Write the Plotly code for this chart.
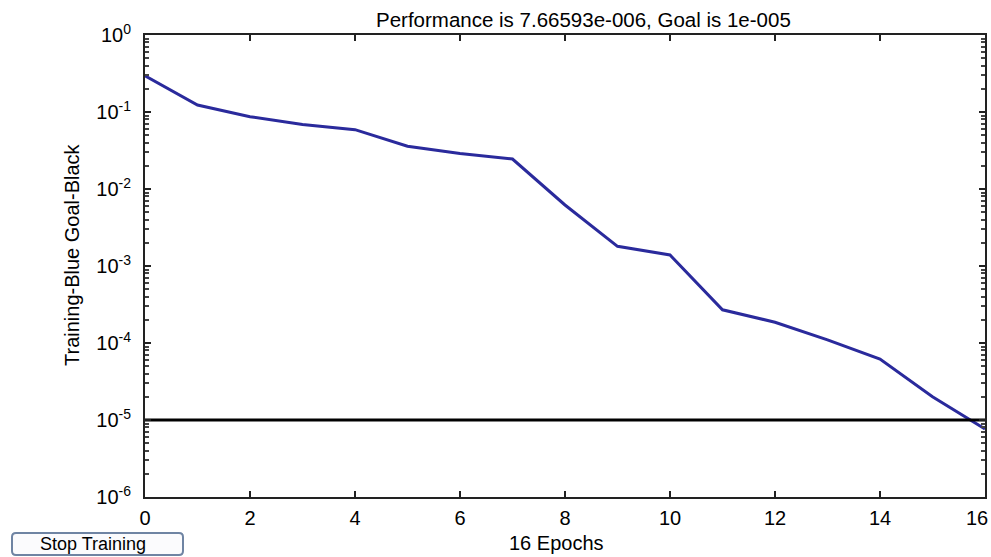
import plotly.graph_objects as go

# ---- data ----
epochs = list(range(0, 17))
performance = [0.295, 0.123, 0.087, 0.069, 0.059, 0.036, 0.029, 0.0245,
               0.0062, 0.0018, 0.00139, 0.00027, 0.000186, 0.00011,
               6.2e-5, 2.0e-5, 7.66593e-6]
goal_value = 1e-5
goal_x = [0, 16]
goal_y = [goal_value, goal_value]

x_tickvals = list(range(0, 17, 2))
x_ticktext = ["0", "2", "4", "6", "8", "10", "12", "14", ""]
last_x_label = "16"
y_exponents = [0, -1, -2, -3, -4, -5, -6]
y_tickvals = [10 ** e for e in y_exponents]
y_ticktext = ["10<sup>%d</sup>" % e for e in y_exponents]
y_minor = [k * 10 ** d for d in range(-6, 0) for k in range(2, 10)]

title_text = "Performance is 7.66593e-006, Goal is 1e-005"
xlabel_text = "16 Epochs"
ylabel_text = "Training-Blue Goal-Black"
button_text = "Stop Training"

FONT = "Liberation Sans, Arial, sans-serif"

fig = go.Figure()
fig.add_trace(go.Scatter(x=epochs, y=performance, mode="lines",
                         line=dict(color="#2a2a9c", width=3),
                         showlegend=False, hoverinfo="x+y"))
fig.add_trace(go.Scatter(x=goal_x, y=goal_y, mode="lines",
                         line=dict(color="black", width=3),
                         showlegend=False, hoverinfo="x+y"))

fig.update_layout(
    width=991, height=557,
    margin=dict(l=145, r=6, t=35, b=60),
    paper_bgcolor="white", plot_bgcolor="white",
    font=dict(family=FONT, size=20, color="black"),
    showlegend=False,
)

fig.update_xaxes(
    range=[0, 16], tickvals=x_tickvals, ticktext=x_ticktext,
    ticks="inside", ticklen=6,
    tickwidth=2, tickcolor="#222", showgrid=False, zeroline=False,
    showline=True, linecolor="#222", linewidth=2, mirror="ticks",
    tickfont=dict(size=20, family=FONT), ticklabelstandoff=2,
    automargin=False,
)
fig.update_yaxes(
    type="log", range=[-6, 0], tickvals=y_tickvals, ticktext=y_ticktext,
    ticks="inside", ticklen=6, tickwidth=2, tickcolor="#222",
    minor=dict(tickvals=y_minor, ticks="inside", ticklen=4,
               tickcolor="#444", tickwidth=1.5),
    showgrid=False, zeroline=False, showline=True, linecolor="#222",
    linewidth=2, mirror="ticks", tickfont=dict(size=20, family=FONT),
    ticklabelstandoff=8, automargin=False,
)

# last x tick label, kept inside the page
fig.add_annotation(text=last_x_label, x=x_tickvals[-1], xref="x",
                   yref="paper", y=(497 - 518) / 462,
                   xanchor="right", yanchor="middle", xshift=5,
                   showarrow=False, font=dict(size=20, family=FONT))

fig.add_annotation(text=title_text, xref="paper", yref="paper",
                   x=(583 - 145) / 840, y=(497 - 20) / 462,
                   xanchor="center", yanchor="middle", showarrow=False,
                   font=dict(size=20.5, family=FONT))
fig.add_annotation(text=xlabel_text, xref="paper", yref="paper",
                   x=(556 - 145) / 840, y=(497 - 543) / 462,
                   xanchor="center", yanchor="middle", showarrow=False,
                   font=dict(size=20, family=FONT))
fig.add_annotation(text=ylabel_text, xref="paper", yref="paper",
                   x=(72 - 145) / 840, y=(497 - 255) / 462, textangle=-90,
                   xanchor="center", yanchor="middle", showarrow=False,
                   font=dict(size=20, family=FONT))

# Stop Training button (rounded rectangle)
fig.add_shape(type="path", xref="paper", yref="paper",
              xsizemode="pixel", ysizemode="pixel", xanchor=0, yanchor=0,
              path="M -129,-58 L 34,-58 Q 38,-58 38,-54 L 38,-40 Q 38,-36 34,-36 "
                   "L -129,-36 Q -133,-36 -133,-40 L -133,-54 Q -133,-58 -129,-58 Z",
              line=dict(color="#6f84a3", width=2), fillcolor="#fbfbfd")
fig.add_annotation(text=button_text, xref="paper", yref="paper",
                   x=(93 - 145) / 840, y=(497 - 544) / 462,
                   xanchor="center", yanchor="middle", showarrow=False,
                   font=dict(size=18, family=FONT))

fig.write_html("out.html",
               config={"displayModeBar": False},
               post_script="document.body.style.margin='0';"
                           "document.body.style.overflow='hidden';")
